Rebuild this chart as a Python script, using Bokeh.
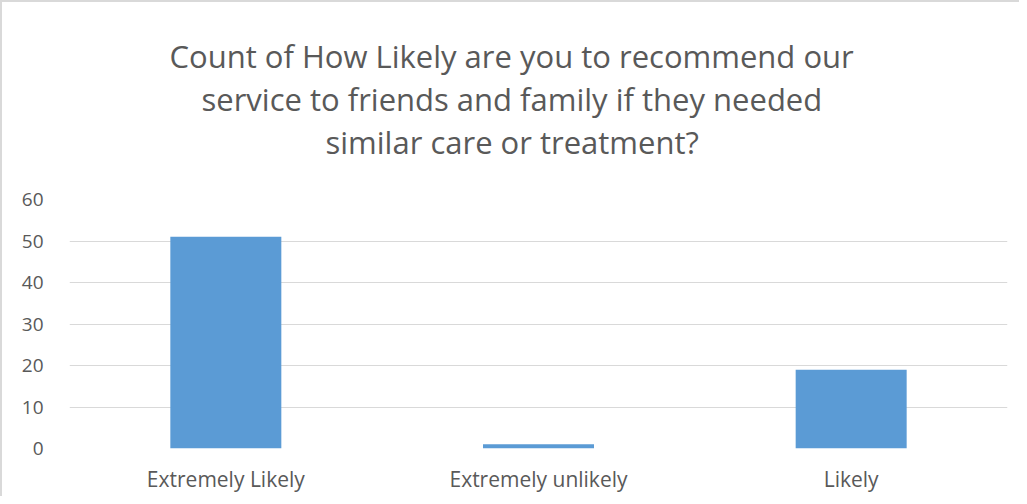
from bokeh.plotting import figure
from bokeh.models import FactorRange, Range1d, FixedTicker, Title
from bokeh.embed import file_html
from bokeh.resources import INLINE

categories = ["Extremely Likely", "Extremely unlikely", "Likely"]
counts = [51, 1, 19]
y_ticks = [0, 10, 20, 30, 40, 50, 60]
title_lines = ["Count of How Likely are you to recommend our",
               "service to friends and family if they needed",
               "similar care or treatment?"]
title_offsets = [100, 132, 256]   # px from the frame's left edge (centres lines at chart middle)

TXT = "#595959"
GRID = "#d9d9d9"
FONT = "Open Sans"

p = figure(x_range=FactorRange(*categories, range_padding=0),
           y_range=Range1d(0, 60),
           width=1019, height=496, title=None,
           output_backend="svg", toolbar_location=None,
           min_border_left=67, min_border_right=14,
           min_border_top=197, min_border_bottom=50)

p.vbar(x=categories, top=counts, width=0.355, color="#5B9BD5", line_color=None)

# spacer between frame and title block
p.add_layout(Title(text=" ", text_font_size="1px", standoff=34), "above")
for line, off in zip(reversed(title_lines), reversed(title_offsets)):
    p.add_layout(Title(text=line, align="left", offset=off, text_font=FONT,
                       text_font_size="31px", text_font_style="normal",
                       text_color=TXT, standoff=-1), "above")

p.outline_line_color = None
p.styles = {"border-top": "2px solid #d9d9d9", "border-left": "2px solid #d9d9d9",
            "box-sizing": "border-box"}

p.xgrid.grid_line_color = None
p.ygrid.grid_line_color = GRID
p.ygrid.grid_line_width = 1
p.yaxis.ticker = FixedTicker(ticks=y_ticks)

for ax in (p.xaxis[0], p.yaxis[0]):
    ax.axis_line_color = None
    ax.major_tick_line_color = None
    ax.minor_tick_line_color = None
    ax.major_label_text_font = FONT
    ax.major_label_text_color = TXT

p.yaxis.major_label_text_font_size = "19px"
p.xaxis.major_label_text_font_size = "21px"
p.yaxis.major_label_standoff = 20
p.xaxis.major_label_standoff = 10

open("out.html", "w").write(file_html(p, INLINE))
